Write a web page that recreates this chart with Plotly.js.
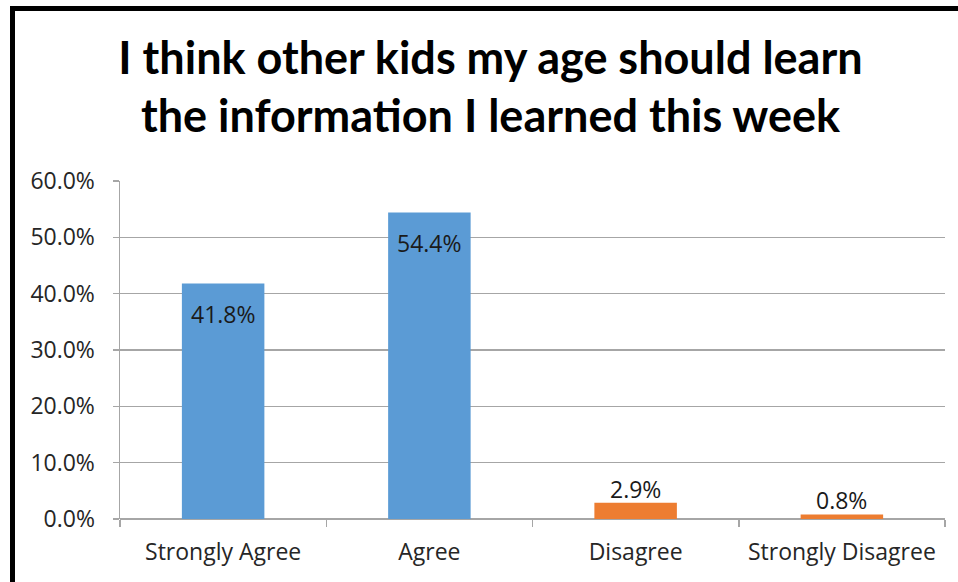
<!DOCTYPE html>
<html><head><meta charset="utf-8">
<script src="https://cdn.plot.ly/plotly-3.0.1.min.js"></script>
<style>
body{margin:0;background:#fff;}
#chart{width:958px;height:582px;position:absolute;left:0;top:0;}
#bl{position:absolute;left:10px;top:6px;width:5px;height:576px;background:#000;pointer-events:none;}
#bt{position:absolute;left:10px;top:6px;width:948px;height:5px;background:#000;pointer-events:none;}
</style></head>
<body>
<div id="chart"></div><div id="bl"></div><div id="bt"></div>
<script>
var categories = ["Strongly Agree", "Agree", "Disagree", "Strongly Disagree"];
var values = [0.418, 0.544, 0.029, 0.008];
var labels = ["41.8%", "54.4%", "2.9%", "0.8%"];
var labelInside = [true, true, false, false];
var tickVals = [0, 0.1, 0.2, 0.3, 0.4, 0.5, 0.6];

var colors = ["#5B9BD5", "#5B9BD5", "#ED7D31", "#ED7D31"];
var FONT = "'Open Sans', 'Noto Sans', sans-serif";

var trace = {
  type: "bar",
  x: categories,
  y: values,
  marker: {color: colors, line: {width: 0}},
  hoverinfo: "none"
};

var annotations = categories.map(function (c, i) {
  return {
    x: c, y: values[i], xref: "x", yref: "y",
    text: labels[i], showarrow: false,
    yanchor: labelInside[i] ? "top" : "bottom",
    yshift: labelInside[i] ? -12 : -4,
    font: {family: FONT, size: 23, color: "#1a1a1a"}
  };
});

var layout = {
  width: 958, height: 582,
  margin: {l: 120, r: 13, t: 181, b: 63},
  paper_bgcolor: "#fff", plot_bgcolor: "#fff",
  bargap: 0.6,
  showlegend: false,
  font: {family: FONT, color: "#404040"},
  annotations: annotations,
  title: {
    text: "I think other kids my age should learn<br>the information I learned this week",
    font: {family: "Lato, 'Open Sans', sans-serif", size: 45, color: "#000", weight: "bold"},
    x: 0.512, xanchor: "center", y: 0.873, yref: "container", yanchor: "middle"
  },
  xaxis: {
    type: "category",
    tickson: "boundaries",
    ticks: "outside", ticklen: 7, tickcolor: "#A6A6A6", tickwidth: 1.5,
    showline: false,
    tickfont: {family: FONT, size: 23, color: "#262626"},
    ticklabelstandoff: 17,
    fixedrange: true
  },
  yaxis: {
    range: [0, 0.6],
    tickvals: tickVals,
    tickformat: ".1%",
    ticks: "outside", ticklen: 6, tickcolor: "#A6A6A6", tickwidth: 1.5,
    showline: true, linecolor: "#A6A6A6", linewidth: 1.5,
    showgrid: true, gridcolor: "#A6A6A6", gridwidth: 1.5,
    zeroline: true, zerolinecolor: "#A6A6A6", zerolinewidth: 1.5,
    tickfont: {family: FONT, size: 23, color: "#262626"},
    ticklabelstandoff: 13,
    fixedrange: true
  }
};

Plotly.newPlot("chart", [trace], layout, {displayModeBar: false, staticPlot: true});
</script>
</body></html>
